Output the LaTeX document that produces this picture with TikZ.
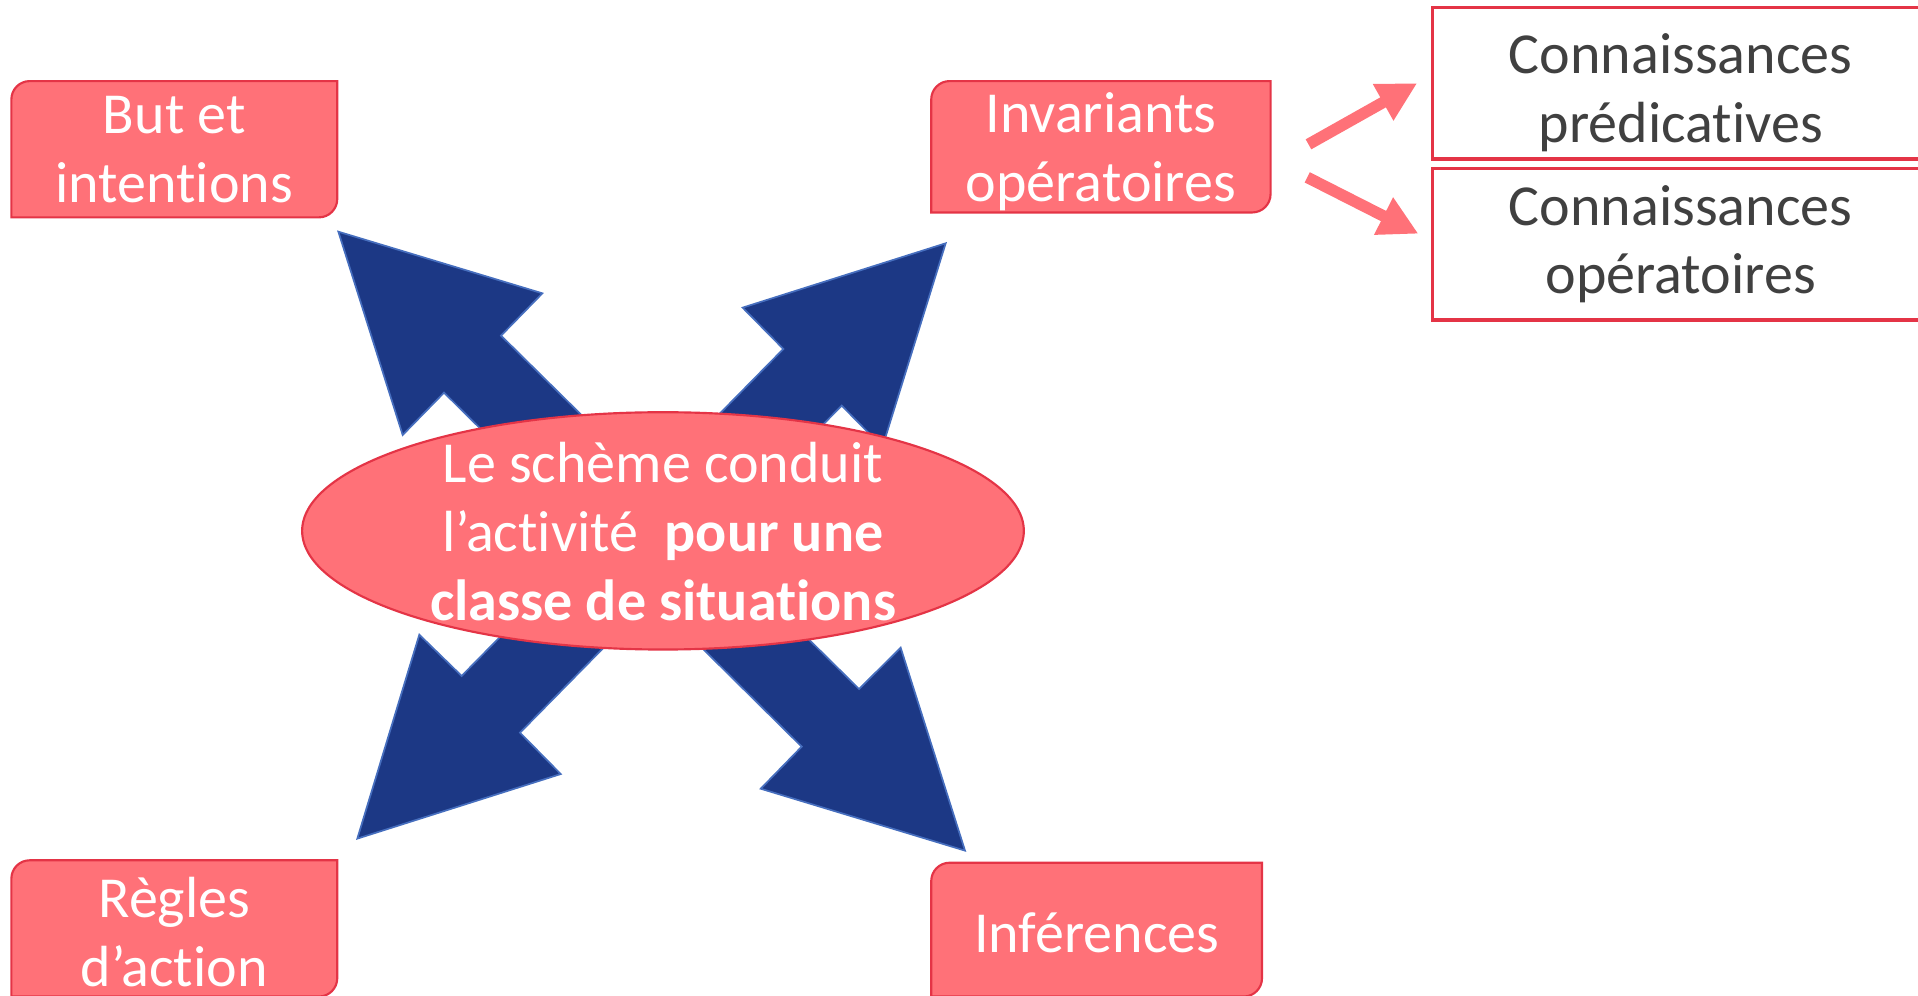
\documentclass[tikz,border=0pt]{standalone}
\usepackage{fontspec}
\setmainfont{Carlito}[Ligatures={NoCommon,NoContextual,NoRare}, Contextuals=NoAlternate]
\usetikzlibrary{arrows.meta,backgrounds,positioning}

\definecolor{saumon}{RGB}{255,113,120}
\definecolor{rougebord}{RGB}{228,52,70}
\definecolor{bleufleche}{RGB}{28,56,133}
\definecolor{bleubord}{RGB}{70,110,190}
\definecolor{grisfonce}{RGB}{64,64,64}

\tikzset{
  texte/.style={font=\fontsize{13.5}{16}\selectfont, align=center, inner sep=0pt},
  boite/.style={texte, text=white},
  fondboite/.style={fill=saumon, draw=rougebord, line width=0.5pt},
  cadre/.style={texte, text=grisfonce, draw=rougebord, line width=0.8pt, fill=white,
    minimum width=4.06cm, minimum height=1.24cm},
  fleche/.style={draw=saumon, line width=2.67pt, -{Triangle[length=0.32cm,width=0.32cm]}},
  grossefleche/.style={fill=bleufleche, draw=bleubord, line width=0.4pt},
}

\begin{document}
\begin{tikzpicture}
    \useasboundingbox (0,0) rectangle (15.68,8.14);

    % Boites des quatre coins
    \node[boite, minimum width=2.65cm, minimum height=1.10cm,
        label={[boite, yshift=-0.005cm]center:But et\\intentions}] (but) at (1.425,6.92) {};
    \node[boite, minimum width=2.76cm, minimum height=1.06cm,
        label={[boite, yshift=-0.04cm]center:Invariants\\opératoires}] (inv) at (9.00,6.94) {};
    \node[boite, minimum width=2.65cm, minimum height=1.10cm,
        label={[boite, yshift=-0.03cm]center:Règles\\d’action}] (regles) at (1.425,0.55) {};
    \node[boite, minimum width=2.69cm, minimum height=1.08cm,
        label={[boite, yshift=-0.03cm]center:Inférences}] (inf) at (8.965,0.54) {};

    \begin{scope}[on background layer]
        \foreach \n in {but,inv,regles,inf} {
            \draw[fondboite] ([yshift=-0.15cm]\n.north west) arc[start angle=180, end angle=90, radius=0.15cm]
                -- (\n.north east) -- ([yshift=0.15cm]\n.south east)
                arc[start angle=0, end angle=-90, radius=0.15cm] -- (\n.south west) -- cycle;
        }
    \end{scope}

    % Connaissances
    \node[cadre, label={[texte, text=grisfonce, yshift=-0.075cm]center:Connaissances\\prédicatives}] (pred) at (13.74,7.46) {};
    \node[cadre, below=0.048cm of pred, label={[texte, text=grisfonce]center:Connaissances\\opératoires}] (oper) {};

    \draw[fleche] ([xshift=0.31cm,yshift=0.02cm]inv.east) -- ([xshift=-0.11cm]pred.west);
    \draw[fleche] ([xshift=0.30cm,yshift=-0.25cm]inv.east) -- ([xshift=-0.10cm,yshift=0.085cm]oper.west);

    % Grosses fleches bleues
    \filldraw[grossefleche] (2.766,6.246) -- (4.434,5.742) -- (4.096,5.396) -- (7.023,2.507) -- (7.363,2.845)
        -- (7.889,1.186) -- (6.219,1.692) -- (6.554,2.036) -- (3.630,4.930) -- (3.292,4.584) -- cycle;
    \filldraw[grossefleche] (7.731,6.151) -- (7.214,4.486) -- (6.881,4.824) -- (4.251,2.150) -- (4.584,1.812)
        -- (2.921,1.284) -- (3.428,2.951) -- (3.774,2.614) -- (6.404,5.287) -- (6.071,5.625) -- cycle;

    % Ellipse centrale
    \coordinate (milieu) at (5.42,3.80);
    \filldraw[fill=saumon, draw=rougebord, line width=0.5pt] (milieu) ellipse [x radius=2.95cm, y radius=0.97cm];
    \node[boite] (scheme) at (5.42,3.795) {Le schème conduit\\l’activité~ \textbf{pour une}\\\textbf{classe de situations}};
\end{tikzpicture}
\end{document}
